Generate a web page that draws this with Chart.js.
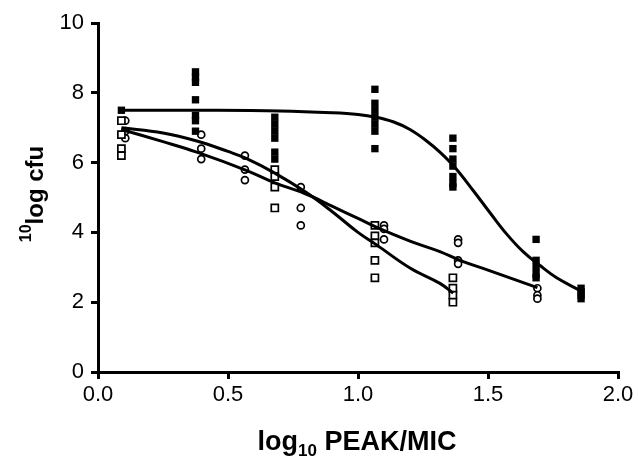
<!DOCTYPE html>
<html>
<head>
<meta charset="utf-8">
<script src="https://cdn.jsdelivr.net/npm/chart.js@4/dist/chart.umd.min.js"></script>
<style>
  body { margin: 0; background: #fff; }
  #wrap { width: 638px; height: 456px; }
</style>
</head>
<body>
<div id="wrap"><canvas id="cfuChart" width="638" height="456"></canvas></div>
<script>
// filled squares: x positions and the measured values at each
const filledX = [0.09, 0.375, 0.68, 1.065, 1.365, 1.685, 1.858];
const filledY = [
  [7.5],
  [8.6, 8.45, 8.3, 7.8, 7.35, 7.2, 6.9],
  [7.3, 7.1, 6.9, 6.7, 6.3, 6.1],
  [8.1, 7.7, 7.5, 7.3, 7.1, 6.9, 6.4],
  [6.7, 6.4, 6.1, 5.9, 5.6, 5.4, 5.3],
  [3.8, 3.2, 3.0, 2.8, 2.7],
  [2.4, 2.3, 2.2, 2.1]
];

// open squares
const openSqX = [0.09, 0.68, 1.065, 1.365];
const openSqY = [
  [7.2, 6.8, 6.4, 6.2],
  [5.8, 5.6, 5.3, 4.7],
  [4.2, 3.9, 3.7, 3.2, 2.7],
  [2.7, 2.4, 2.2, 2.0]
];

// open circles
const circX = [0.105, 0.397, 0.565, 0.78, 1.1, 1.385, 1.69];
const circY = [
  [7.2, 6.9, 6.7],
  [6.8, 6.4, 6.1],
  [6.2, 5.8, 5.5],
  [5.3, 4.7, 4.2],
  [4.2, 4.1, 3.8],
  [3.8, 3.7, 3.2, 3.1],
  [2.4, 2.2, 2.1]
];

// fitted curves
const curveFilledX = [0.09, 0.4, 0.7, 0.9, 1.0, 1.07, 1.135, 1.2, 1.264, 1.315, 1.373, 1.443, 1.507, 1.572, 1.636, 1.70, 1.764, 1.858];
const curveFilledY = [7.5, 7.5, 7.48, 7.43, 7.38, 7.3, 7.17, 6.95, 6.62, 6.3, 5.86, 5.2, 4.57, 3.95, 3.44, 3.05, 2.7, 2.32];

const curveSqX = [0.09, 0.25, 0.38, 0.5, 0.57, 0.68, 0.8, 0.9, 1.0, 1.07, 1.2, 1.315, 1.366];
const curveSqY = [7.0, 6.85, 6.62, 6.32, 6.12, 5.7, 5.15, 4.6, 4.0, 3.65, 2.98, 2.54, 2.26];

const curveCircX = [0.09, 0.25, 0.38, 0.57, 0.68, 0.8, 0.9, 1.0, 1.07, 1.2, 1.315, 1.392, 1.5, 1.69];
const curveCircY = [6.95, 6.6, 6.3, 5.78, 5.42, 5.1, 4.75, 4.4, 4.15, 3.75, 3.45, 3.2, 2.92, 2.42];

const xTicks = ['0.0', '0.5', '1.0', '1.5', '2.0'];
const yTicks = ['0', '2', '4', '6', '8', '10'];

const FONT = '"Liberation Sans", Arial, sans-serif';

// turn x list + value groups into {x,y} points
function toPoints(xs, groups) {
  const pts = [];
  xs.forEach((x, i) => groups[i].forEach((y) => pts.push({ x: x, y: y })));
  return pts;
}

function toLine(xs, ys) {
  return xs.map((x, i) => ({ x: x, y: ys[i] }));
}

function curve(xs, ys) {
  return {
    data: toLine(xs, ys),
    showLine: true,
    borderColor: '#000',
    borderWidth: 3,
    pointRadius: 0,
    tension: 0.4,
    fill: false
  };
}

// axis titles with super/subscript
const titlePlugin = {
  id: 'axisTitles',
  afterDraw(chart) {
    const c = chart.ctx;
    c.save();
    c.fillStyle = '#000';
    c.textBaseline = 'alphabetic';
    c.textAlign = 'left';

    // x title: log10 PEAK/MIC
    const big = 'bold 27px ' + FONT;
    const small = 'bold 17px ' + FONT;
    c.font = big;
    const w1 = c.measureText('log').width;
    const w3 = c.measureText(' PEAK/MIC').width;
    c.font = small;
    const w2 = c.measureText('10').width;
    let x = 357 - (w1 + w2 + w3) / 2;
    const by = 450;
    c.font = big;
    c.fillText('log', x, by);
    x += w1;
    c.font = small;
    c.fillText('10', x, by + 6);
    x += w2;
    c.font = big;
    c.fillText(' PEAK/MIC', x, by);

    // y title: 10log cfu (rotated)
    c.translate(43, 194);
    c.rotate(-Math.PI / 2);
    const yb = 'bold 24px ' + FONT;
    const ys = 'bold 16px ' + FONT;
    c.font = ys;
    const s1 = c.measureText('10').width;
    c.font = yb;
    const s2 = c.measureText('log cfu').width;
    let t = -(s1 + s2) / 2;
    c.font = ys;
    c.fillText('10', t, -12);
    t += s1;
    c.font = yb;
    c.fillText('log cfu', t, 0);
    c.restore();
  }
};

const ctx = document.getElementById('cfuChart').getContext('2d');

new Chart(ctx, {
  type: 'scatter',
  data: {
    datasets: [
      curve(curveFilledX, curveFilledY),
      curve(curveSqX, curveSqY),
      curve(curveCircX, curveCircY),
      {
        data: toPoints(filledX, filledY),
        pointStyle: 'rect',
        pointRadius: 5.2,
        backgroundColor: '#000',
        borderColor: '#000',
        borderWidth: 0
      },
      {
        data: toPoints(openSqX, openSqY),
        pointStyle: 'rect',
        pointRadius: 5,
        backgroundColor: '#fff',
        borderColor: '#000',
        borderWidth: 1.7
      },
      {
        data: toPoints(circX, circY),
        pointStyle: 'circle',
        pointRadius: 3.5,
        backgroundColor: '#fff',
        borderColor: '#000',
        borderWidth: 1.7
      }
    ]
  },
  options: {
    responsive: false,
    animation: false,
    layout: { padding: { top: 23, right: 20, left: 0, bottom: 0 } },
    plugins: {
      legend: { display: false },
      tooltip: { enabled: false }
    },
    scales: {
      x: {
        type: 'linear',
        min: 0,
        max: 2,
        afterFit: (s) => { s.height = 84; },
        afterBuildTicks: (s) => { s.ticks = xTicks.map((t) => ({ value: parseFloat(t) })); },
        ticks: {
          color: '#000',
          font: { family: FONT, size: 22 },
          padding: 3,
          maxRotation: 0,
          callback: (v) => v.toFixed(1)
        },
        grid: { drawOnChartArea: false, drawTicks: true, tickLength: 7, color: '#000', lineWidth: 3 },
        border: { display: true, color: '#000', width: 3 }
      },
      y: {
        type: 'linear',
        min: 0,
        max: 10,
        afterFit: (s) => { s.width = 98; },
        afterBuildTicks: (s) => { s.ticks = yTicks.map((t) => ({ value: parseFloat(t) })); },
        ticks: {
          color: '#000',
          font: { family: FONT, size: 22 },
          padding: 7,
          callback: (v) => String(v)
        },
        grid: { drawOnChartArea: false, drawTicks: true, tickLength: 7, color: '#000', lineWidth: 3 },
        border: { display: true, color: '#000', width: 3 }
      }
    }
  },
  plugins: [titlePlugin]
});
</script>
</body>
</html>
